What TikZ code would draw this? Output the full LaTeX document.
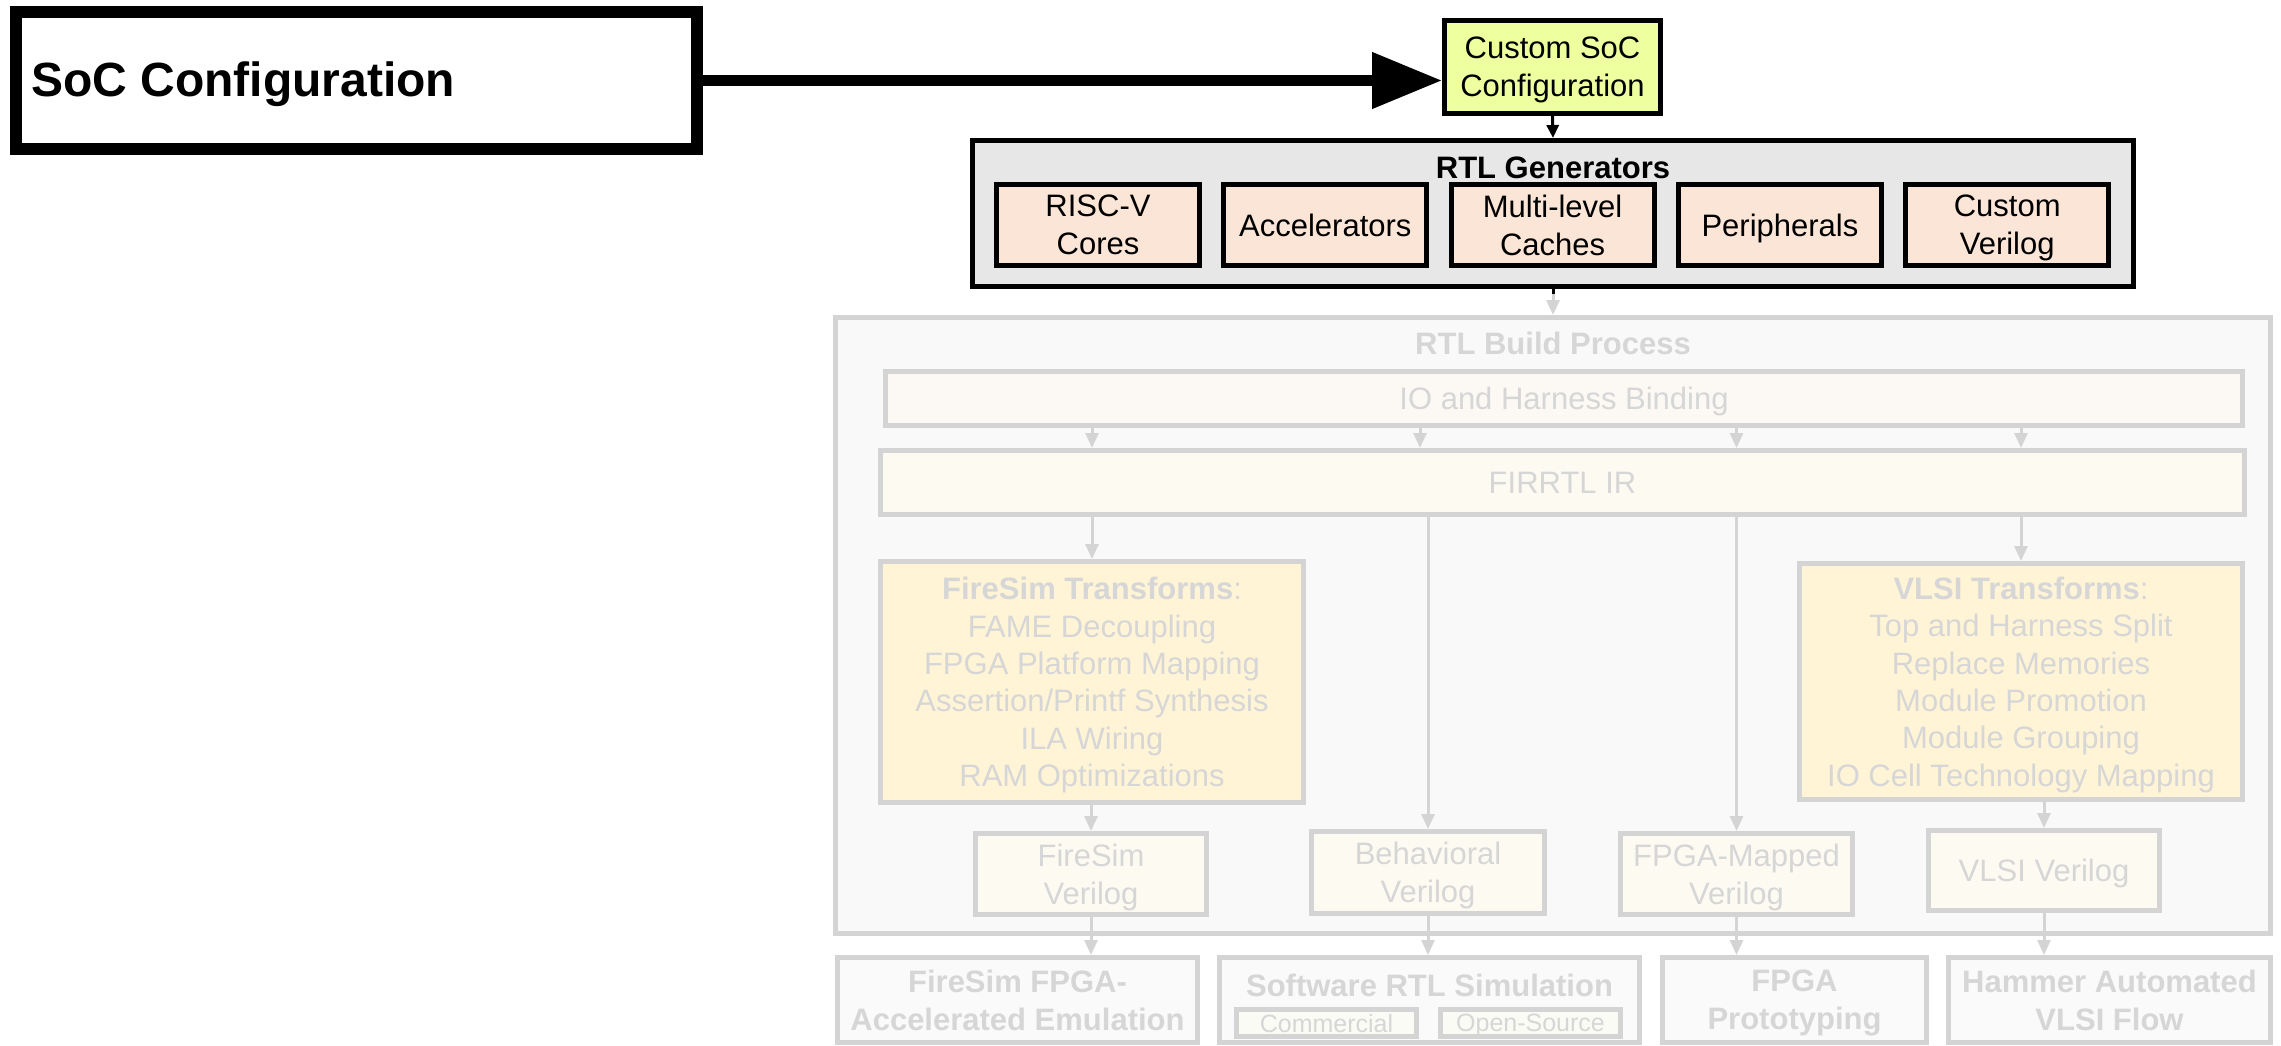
\documentclass[tikz,border=0pt]{standalone}
\usepackage{fontspec}
\setmainfont{Liberation Sans}
\usetikzlibrary{arrows.meta}

\definecolor{fadeline}{RGB}{212,212,212}
\definecolor{fadetext}{RGB}{214,214,214}
\definecolor{socfill}{RGB}{238,255,160}
\definecolor{genfill}{RGB}{231,231,231}
\definecolor{peach}{RGB}{251,229,214}
\definecolor{buildfill}{RGB}{249,249,249}
\definecolor{iofill}{RGB}{252,249,245}
\definecolor{irfill}{RGB}{253,250,242}
\definecolor{xformfill}{RGB}{255,244,214}
\definecolor{outfill}{RGB}{250,250,250}
\definecolor{toolfill}{RGB}{251,251,246}

\newcommand\diagreg{\fontsize{31}{38}\selectfont}
\newcommand\diagbold{\fontsize{31}{38}\selectfont\bfseries}
\newcommand\diagsmall{\fontsize{25}{28}\selectfont}

\begin{document}
\begin{tikzpicture}[x=1pt,y=-1pt,
  darkbox/.style={draw=black, line width=5pt, inner sep=0pt, align=center, text depth=0pt, font=\diagreg},
  fadebox/.style={draw=fadeline, line width=5pt, inner sep=0pt, align=center, text depth=0pt, text=fadetext, font=\diagreg},
  fadetitle/.style={inner sep=0pt, text=fadetext, font=\diagbold},
  blackarrow/.style={draw=black, line width=3pt, -{Triangle[length=13pt,width=12pt]}},
  fadearrow/.style={draw=fadeline, line width=3pt, -{Triangle[length=15pt,width=13pt]}},
  bigarrow/.style={draw=black, line width=11pt, -{Triangle[length=70pt,width=54pt]}}]
\useasboundingbox (0,0) rectangle (2281,1046);

% configuration entry point
\node[draw=black, line width=12pt, fill=white, minimum width=681pt, minimum height=137pt] (cfg) at (356.5,80.5) {};
\node[anchor=base west, inner sep=0pt, font=\fontsize{48}{54}\selectfont\bfseries] (cfgtext) at (31,97) {SoC Configuration};

\node[darkbox, fill=socfill, minimum width=216pt, minimum height=93pt] (custom) at (1552.5,67) {Custom SoC\\Configuration};

% generators
\node[darkbox, fill=genfill, minimum width=1161pt, minimum height=146pt] (gen) at (1553,213.5) {};
\node[inner sep=0pt, font=\diagbold] (gentitle) at (1553,168) {RTL Generators};
\node[darkbox, fill=peach, minimum width=203pt, minimum height=81pt] (core) at (1098,225) {RISC-V\\Cores};
\node[darkbox, fill=peach, minimum width=203pt, minimum height=81pt] (accel) at (1325.3,225) {Accelerators};
\node[darkbox, fill=peach, minimum width=203pt, minimum height=81pt] (cache) at (1552.6,225) {Multi-level\\Caches};
\node[darkbox, fill=peach, minimum width=203pt, minimum height=81pt] (periph) at (1779.9,225) {Peripherals};
\node[darkbox, fill=peach, minimum width=203pt, minimum height=81pt] (cverilog) at (2007.2,225) {Custom\\Verilog};

% build process
\node[fadebox, fill=buildfill, minimum width=1435pt, minimum height=616pt] (build) at (1553,625.5) {};
\node[fadetitle] (buildtitle) at (1553,343) {RTL Build Process};
\node[fadebox, fill=iofill, minimum width=1357pt, minimum height=54pt] (io) at (1564,398.5) {IO and Harness Binding};
\node[fadebox, fill=irfill, minimum width=1364pt, minimum height=64pt] (ir) at (1562.5,482.5) {FIRRTL IR};

\node[fadebox, fill=xformfill, minimum width=423pt, minimum height=241pt, font=\fontsize{31}{37.4}\selectfont] (fxform) at (1092,682)
  {\textbf{FireSim Transforms}:\\FAME Decoupling\\FPGA Platform Mapping\\Assertion/Printf Synthesis\\ILA Wiring\\RAM Optimizations};
\node[fadebox, fill=xformfill, minimum width=443pt, minimum height=236pt, font=\fontsize{31}{37.4}\selectfont] (vxform) at (2021,681.5)
  {\textbf{VLSI Transforms}:\\Top and Harness Split\\Replace Memories\\Module Promotion\\Module Grouping\\IO Cell Technology Mapping};

\node[fadebox, fill=irfill, minimum width=231pt, minimum height=81pt] (fv) at (1091,874) {FireSim\\Verilog};
\node[fadebox, fill=irfill, minimum width=233pt, minimum height=82pt] (bv) at (1428,872.5) {Behavioral\\Verilog};
\node[fadebox, fill=irfill, minimum width=232pt, minimum height=81pt] (pv) at (1736.5,874) {FPGA-Mapped\\Verilog};
\node[fadebox, fill=irfill, minimum width=231pt, minimum height=80pt] (vv) at (2044,870.5) {VLSI Verilog};

% targets
\node[fadebox, fill=outfill, minimum width=360pt, minimum height=85pt, font=\diagbold] (emu) at (1017.5,1000) {FireSim FPGA-\\Accelerated Emulation};
\node[fadebox, fill=outfill, minimum width=420pt, minimum height=85pt] (sim) at (1429.5,1000) {};
\node[fadetitle] (simtitle) at (1429.5,985) {Software RTL Simulation};
\node[fadebox, fill=toolfill, minimum width=180pt, minimum height=27pt, font=\diagsmall] (comm) at (1326.5,1023) {Commercial};
\node[fadebox, fill=toolfill, minimum width=180pt, minimum height=27pt, font=\diagsmall] (open) at (1530.5,1023) {Open-Source};
\node[fadebox, fill=outfill, minimum width=264pt, minimum height=85pt, font=\diagbold] (proto) at (1794.5,1000) {FPGA\\Prototyping};
\node[fadebox, fill=outfill, minimum width=322pt, minimum height=85pt, font=\diagbold] (hammer) at (2109.5,1000) {Hammer Automated\\VLSI Flow};

% connectors
\draw[bigarrow] (cfg.east) -- (cfg.east -| custom.west);
\draw[blackarrow] (custom.south) -- (gen.north);
\draw[fadearrow] (gen.south) -- (build.north);
\draw[black, line width=3pt] (gen.south) -- ++(0,5);

\draw[fadearrow] (io.south -| fxform.north) -- (ir.north -| fxform.north);
\draw[fadearrow] ([xshift=-8pt]io.south -| bv.north) -- ([xshift=-8pt]ir.north -| bv.north);
\draw[fadearrow] (io.south -| pv.north) -- (ir.north -| pv.north);
\draw[fadearrow] (io.south -| vxform.north) -- (ir.north -| vxform.north);

\draw[fadearrow] (ir.south -| fxform.north) -- (fxform.north);
\draw[fadearrow] (ir.south -| bv.north) -- (bv.north);
\draw[fadearrow] (ir.south -| pv.north) -- (pv.north);
\draw[fadearrow] (ir.south -| vxform.north) -- (vxform.north);

\draw[fadearrow] (fxform.south -| fv.north) -- (fv.north);
\draw[fadearrow] (vxform.south -| vv.north) -- (vv.north);

\draw[fadearrow] (fv.south) -- (fv.south |- emu.north);
\draw[fadearrow] (bv.south) -- (bv.south |- sim.north);
\draw[fadearrow] (pv.south) -- (pv.south |- proto.north);
\draw[fadearrow] (vv.south) -- (vv.south |- hammer.north);
\end{tikzpicture}
\end{document}
